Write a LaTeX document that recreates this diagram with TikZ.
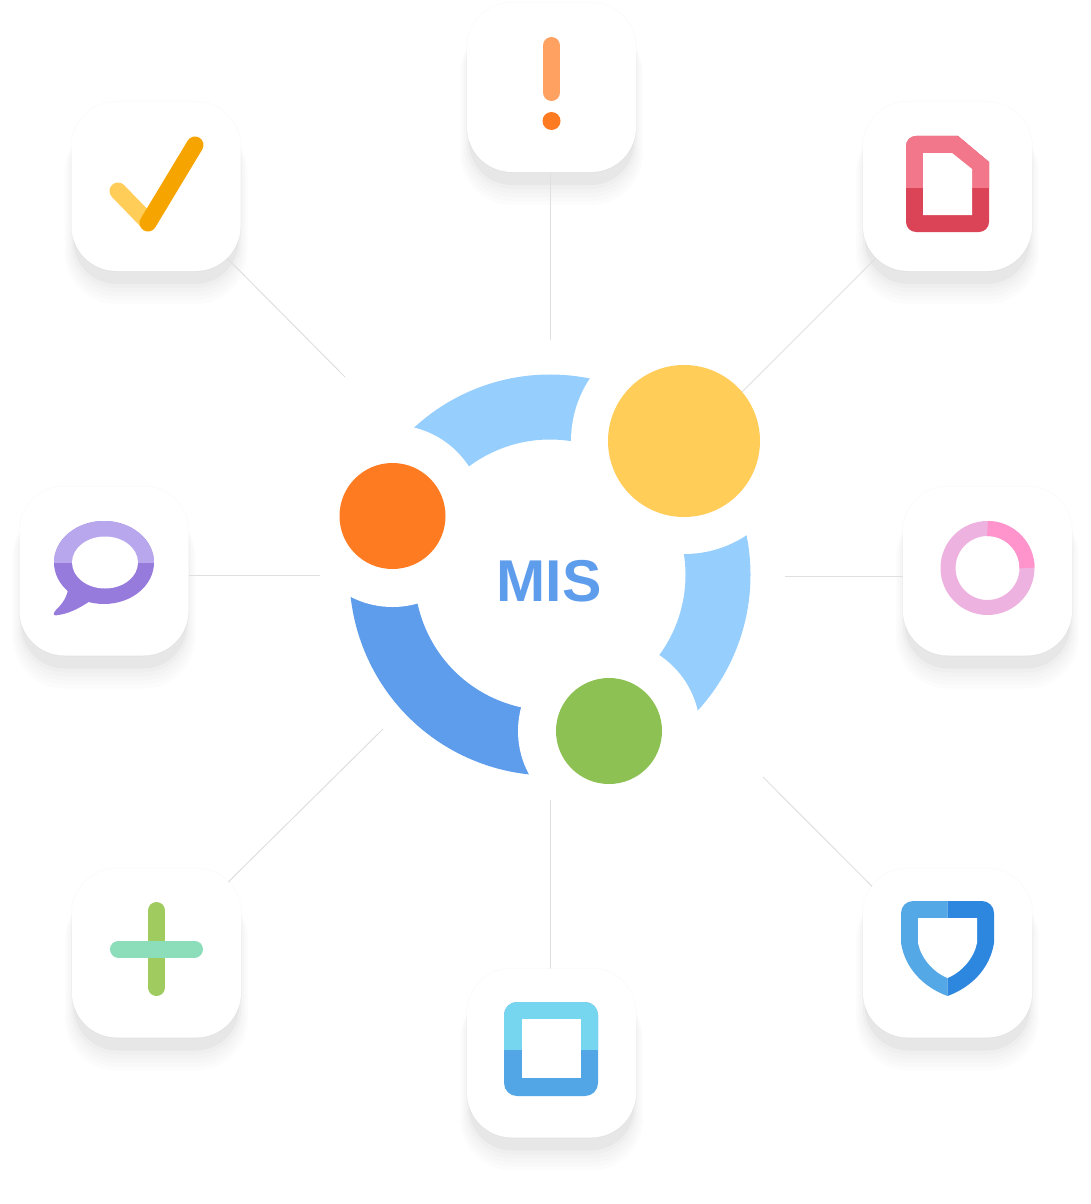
\documentclass[tikz,border=0pt]{standalone}
\usepackage{fontspec}
\setmainfont{Liberation Sans}
\pgfdeclarelayer{under}
\pgfdeclarelayer{links}
\pgfsetlayers{under,links,main}
\definecolor{skyarc}{HTML}{96CEFE}
\definecolor{bluearc}{HTML}{5E9CEC}
\definecolor{flamecol}{HTML}{FF7B22}
\definecolor{suncol}{HTML}{FFCD58}
\definecolor{leafcol}{HTML}{8DC153}
\definecolor{linkcol}{HTML}{DFDFDF}
\definecolor{amber}{HTML}{F6A500}
\definecolor{alertbar}{HTML}{FFA161}
\definecolor{doclight}{HTML}{F2778A}
\definecolor{docdark}{HTML}{DB4457}
\definecolor{chatlight}{HTML}{B8A7EC}
\definecolor{chatdark}{HTML}{967ADC}
\definecolor{pinklight}{HTML}{EEB2E0}
\definecolor{pinkdark}{HTML}{FF94CC}
\definecolor{pluslight}{HTML}{8CDEBB}
\definecolor{plusdark}{HTML}{A0CC5F}
\definecolor{boxlight}{HTML}{76D6EF}
\definecolor{boxdark}{HTML}{52A6E5}
\definecolor{guardlight}{HTML}{54A8E6}
\definecolor{guarddark}{HTML}{2E87DE}
\newcommand{\appcard}[3]{
\node[card] at (#2,#3) (#1) {};
\begin{pgfonlayer}{under}
\foreach \e/\d/\o in {1/0/0.016,-2/15/0.03,0/17/0.015,1/20/0.012,3/22/0.012,5/24/0.012,7/26/0.012}
  \fill[black,opacity=\o,rounded corners=45+\e] (#2-84.5-\e,#3-84.5-\e-\d) rectangle (#2+84.5+\e,#3+84.5+\e-\d);
\end{pgfonlayer}
}
\newcommand{\docpath}{(932,-136) -- (958,-136) -- (989,-162) [rounded corners=10] -- (989,-232) -- (906,-232) -- (906,-136) -- cycle}
\newcommand{\guardpath}{(947.5,-901) [rounded corners=12] -- (994,-901) [sharp corners] -- (994,-943) .. controls (990,-968) and (972,-987) .. (947.5,-996) .. controls (923,-987) and (905,-968) .. (901,-943) [rounded corners=12] -- (901,-901) -- cycle}
\begin{document}
\begin{tikzpicture}[x=1pt,y=1pt,
card/.style={rectangle,fill=white,rounded corners=45,minimum size=169,inner sep=0pt},
dot/.style={circle,inner sep=0pt},
link/.style={linkcol,line width=1},
bar/.style={line width=17,line cap=round}]
\useasboundingbox (0,0) rectangle (1090,-1204);

\appcard{tick}{156}{-186.5}
\appcard{alert}{551.5}{-87.5}
\appcard{doc}{947.5}{-186.5}
\appcard{chat}{104}{-571}
\appcard{gauge}{987.5}{-571}
\appcard{plus}{156.5}{-953}
\appcard{box}{551.5}{-1053}
\appcard{guard}{947.5}{-953}

\coordinate (hub) at (550,-575);
\node[dot,fill=suncol,minimum size=152] at (684,-441) (sun) {};
\node[dot,fill=flamecol,minimum size=106] at (392.5,-516) (flame) {};
\node[dot,fill=leafcol,minimum size=106] at (609,-731) (leaf) {};
\node[bluearc] at (549,-581.5) (mis) {\fontsize{59}{59}\selectfont\bfseries MIS};

\begin{pgfonlayer}{under}
\draw[skyarc,line width=65] (hub) ++(45:168) arc[start angle=45,end angle=160,radius=168];
\draw[skyarc,line width=65] (hub) ++(45:168) arc[start angle=45,end angle=-69,radius=168];
\draw[bluearc,line width=65] (hub) ++(160:168) arc[start angle=160,end angle=291,radius=168];
\fill[white] (sun) circle (113);
\fill[white] (flame) circle (91);
\fill[white] (leaf) circle (91);
\end{pgfonlayer}

\coordinate (n1) at (550,-340);
\coordinate (n2) at (735,-399);
\coordinate (n3) at (785,-576);
\coordinate (n4) at (763,-777);
\coordinate (n5) at (550,-800);
\coordinate (n6) at (383,-729);
\coordinate (n7) at (320,-575);
\coordinate (n8) at (345,-377);
\begin{pgfonlayer}{links}
\draw[link] (alert.center -| n1) -- (n1);
\draw[link] (doc.center) -- (n2);
\draw[link] (gauge.center |- n3) -- (n3);
\draw[link] ([xshift=-9pt]guard.center) -- (n4);
\draw[link] (box.center -| n5) -- (n5);
\draw[link] (plus.center) -- (n6);
\draw[link] (chat.center |- n7) -- (n7);
\draw[link] (tick.center) -- (n8);
\end{pgfonlayer}

\draw[bar,suncol] (118,-191) -- (148,-222);
\draw[bar,amber] (195,-145) -- (148,-223);

\draw[bar,alertbar] (551.5,-45.5) -- (551.5,-92.5);
\fill[flamecol] (551.5,-121) circle (9);

\fill[docdark] \docpath;
\begin{scope}
\clip (900,-130) rectangle (995,-187);
\fill[doclight] \docpath;
\end{scope}
\fill[white] (923,-153) -- (952,-153) -- (972,-169) -- (972,-215) -- (923,-215) -- cycle;

\fill[chatdark] (68,-590) .. controls (66,-600) and (60,-606) .. (55,-611) .. controls (52,-615) and (55,-616) .. (58,-615) .. controls (68,-614) and (80,-608) .. (90,-601) -- cycle;
\fill[chatdark] (104,-562.5) ellipse (50 and 41.5);
\begin{scope}
\clip (50,-515) rectangle (160,-562.3);
\fill[chatlight] (104,-562.5) ellipse (50 and 41.5);
\end{scope}
\fill[white] (105,-562.5) ellipse (33 and 26);

\draw[pinklight,line width=15] (987.5,-568) circle (39.5);
\draw[pinkdark,line width=15] (987.5,-528.5) arc[start angle=90,end angle=0,radius=39.5];

\draw[bar,plusdark] (156.5,-910.5) -- (156.5,-987.5);
\draw[bar,pluslight] (118.5,-949) -- (194.5,-949);

\fill[boxdark,rounded corners=13] (504,-1002) rectangle (598,-1096);
\begin{scope}
\clip (500,-998) rectangle (602,-1049);
\fill[boxlight,rounded corners=13] (504,-1002) rectangle (598,-1096);
\end{scope}
\fill[white] (522,-1019) rectangle (581,-1078);

\begin{scope}
\clip (895,-895) rectangle (947.5,-1000);
\fill[guardlight] \guardpath;
\end{scope}
\begin{scope}
\clip (947.5,-895) rectangle (1000,-1000);
\fill[guarddark] \guardpath;
\end{scope}
\fill[white] (918,-918) -- (977,-918) -- (977,-943) .. controls (974,-958) and (962,-972) .. (947.5,-978) .. controls (933,-972) and (921,-958) .. (918,-943) -- cycle;
\end{tikzpicture}
\end{document}
